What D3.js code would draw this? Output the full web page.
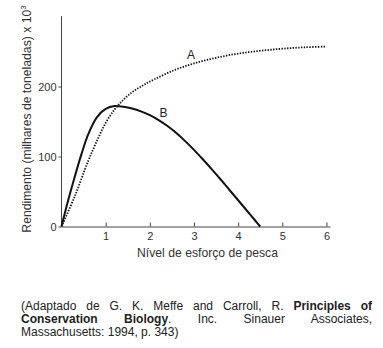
<!DOCTYPE html>
<html><head><meta charset="utf-8">
<script src="https://cdn.jsdelivr.net/npm/d3@7"></script>
<style>
html,body{margin:0;padding:0;background:#fff;}
body{width:383px;height:348px;position:relative;overflow:hidden;font-family:"Liberation Sans",Arial,sans-serif;}
svg{position:absolute;left:0;top:0;}
.cap{position:absolute;left:21px;width:351px;font-size:12px;color:#222;line-height:13px;white-space:nowrap;font-family:"Liberation Sans",Arial,sans-serif;}
.just{text-align:justify;text-align-last:justify;white-space:normal;}
</style></head><body>
<script>
// Curve A (dotted)
const effortA = [0,0.3,0.6,0.8,1.0,1.2,1.4,1.6,1.8,2.0,2.5,3.0,3.5,4.0,4.5,5.0,5.5,6.0];
const yieldA  = [0,43,93,122,148,167,181,192,200,207,222,233,241,247,251,254,256,257];
// Curve B (solid)
const effortB = [0,0.15,0.3,0.45,0.6,0.8,1.0,1.2,1.4,1.6,1.8,2.0,2.2,2.4,2.6,2.8,3.0,3.2,3.4,3.6,3.8,4.0,4.2,4.4,4.5];
const yieldB  = [0,37,71,103,131,156,168,172,171,168.5,164.5,159,152,143.5,133.5,122,109.5,96,82,67.5,52.5,37.5,22.5,7.5,0];
const xTicks = [1,2,3,4,5,6];
const yTicks = [0,100,200];
const labels = [{name:"A", x:2.93, y:239},{name:"B", x:2.31, y:157}];
const xTitle = "Nível de esforço de pesca";
const yTitle = "Rendimento (milhares de toneladas) x 10";
const caption = [
  [{t:"(Adaptado de G. K. Meffe and Carroll, R. "},{t:"Principles of",b:true}],
  [{t:"Conservation Biology",b:true},{t:". Inc. Sinauer Associates,"}],
  [{t:"Massachusetts: 1994, p. 343)"}]
];

const W=383,H=348;
const svg=d3.select("body").append("svg").attr("width",W).attr("height",H);
const x=d3.scaleLinear().domain([0,6.08]).range([61.5,330]);
const y=d3.scaleLinear().domain([0,300]).range([226.5,16.5]);
const font='"Liberation Sans",Arial,sans-serif';

// axes
const gx=svg.append("g").attr("transform",`translate(0,${y(0)})`)
  .call(d3.axisBottom(x).tickValues(xTicks).tickFormat(d3.format("d")).tickSize(-4).tickSizeOuter(0).tickPadding(6));
const gy=svg.append("g").attr("transform",`translate(${x(0)},0)`)
  .call(d3.axisLeft(y).tickValues(yTicks).tickFormat(d3.format("d")).tickSize(3).tickSizeOuter(0).tickPadding(2));
gy.select(".domain").attr("d",`M0,${y(0)}V${y(300.5)}`);
[gx,gy].forEach(g=>{
  g.select(".domain").attr("stroke","#444");
  g.selectAll(".tick line").attr("stroke","#444");
  g.selectAll(".tick text").attr("font-family",font).attr("font-size","11px").attr("fill","#333");
});

// curves
const line=d3.line().x(d=>x(d[0])).y(d=>y(d[1])).curve(d3.curveCatmullRom.alpha(0.5));
svg.append("path").datum(effortA.map((e,i)=>[e,yieldA[i]]))
  .attr("d",line).attr("fill","none").attr("stroke","#111").attr("stroke-width",1.8).attr("stroke-dasharray","1.4,1.4");
svg.append("path").datum(effortB.map((e,i)=>[e,yieldB[i]]))
  .attr("d",line).attr("fill","none").attr("stroke","#111").attr("stroke-width",2);

svg.selectAll("text.lab").data(labels).enter().append("text").attr("class","lab")
  .attr("x",d=>x(d.x)).attr("y",d=>y(d.y)).attr("text-anchor","middle")
  .attr("font-family",font).attr("font-size","12px").attr("fill","#222").text(d=>d.name);

// titles
svg.append("text").attr("x",207.5).attr("y",257).attr("text-anchor","middle")
  .attr("font-family",font).attr("font-size","12.2px").attr("fill","#333").text(xTitle);
const yt=svg.append("text").attr("transform","translate(31,119) rotate(-90)").attr("text-anchor","middle")
  .attr("font-family",font).attr("font-size","12.2px").attr("fill","#333");
yt.append("tspan").text(yTitle);
yt.append("tspan").attr("dy",-5).attr("font-size","8px").text("3");

// caption
const tops=[300,313,326];
caption.forEach((ln,i)=>{
  const div=d3.select("body").append("div").attr("class","cap"+(i<2?" just":"")).style("top",tops[i]+"px");
  ln.forEach(s=>{div.append("span").style("font-weight",s.b?"bold":"normal").text(s.t);});
});
</script>
</body></html>
